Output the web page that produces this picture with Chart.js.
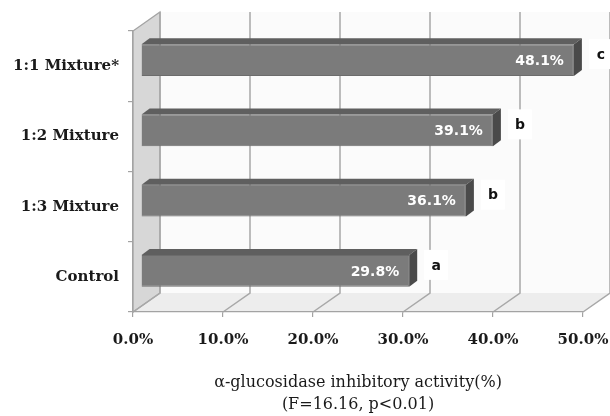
<!DOCTYPE html>
<html><head><meta charset="utf-8">
<script src="https://cdn.jsdelivr.net/npm/chart.js@4"></script>
<style>html,body{margin:0;padding:0;background:#fff}#wrap{width:610px;height:416px;position:relative}</style>
</head><body><div id="wrap"><canvas id="c" width="610" height="416"></canvas></div>
<script>
const categories = ['1:1 Mixture*', '1:2 Mixture', '1:3 Mixture', 'Control'];
const values = [48.1, 39.1, 36.1, 29.8];
const groupLetters = ['c', 'b', 'b', 'a'];
const xTicks = [0, 10, 20, 30, 40, 50];
const axisTitle = ['\u03b1-glucosidase inhibitory activity(%)', '(F=16.16, p<0.01)'];

const DX = 27, DY = -19;   // depth of the 3D box
const BX = 8, BY = -6;     // bar front-face offset
const BDX = 8, BDY = -6;   // bar depth

const box3d = {
  id: 'box3d',
  beforeDraw(chart) {
    const {ctx, chartArea: a, scales: {x}} = chart;
    ctx.save();
    ctx.fillStyle = '#fbfbfb';
    ctx.fillRect(a.left + DX, a.top + DY, a.right - a.left, a.bottom - a.top);
    ctx.fillStyle = '#ededed';
    ctx.beginPath();
    ctx.moveTo(a.left, a.bottom); ctx.lineTo(a.right, a.bottom);
    ctx.lineTo(a.right + DX, a.bottom + DY); ctx.lineTo(a.left + DX, a.bottom + DY);
    ctx.closePath(); ctx.fill();
    ctx.fillStyle = '#d7d7d7';
    ctx.strokeStyle = '#a3a3a3';
    ctx.lineWidth = 1.2;
    ctx.beginPath();
    ctx.moveTo(a.left, a.top); ctx.lineTo(a.left + DX, a.top + DY);
    ctx.lineTo(a.left + DX, a.bottom + DY); ctx.lineTo(a.left, a.bottom);
    ctx.closePath(); ctx.fill(); ctx.stroke();
    ctx.strokeStyle = '#a8a8a8';
    ctx.lineWidth = 1.5;
    xTicks.forEach(v => {
      const px = x.getPixelForValue(v);
      ctx.beginPath();
      ctx.moveTo(px + DX, a.top + DY); ctx.lineTo(px + DX, a.bottom + DY);
      ctx.lineTo(px, a.bottom);
      ctx.stroke();
    });
    ctx.restore();
  },
  beforeDatasetsDraw(chart) {
    chart.ctx.save();
    chart.ctx.translate(BX, BY);
  },
  afterDatasetsDraw(chart) {
    const {ctx, scales: {x}} = chart;
    ctx.restore();
    const meta = chart.getDatasetMeta(0);
    ctx.save();
    meta.data.forEach((bar, i) => {
      const p = bar.getProps(['x', 'y', 'base', 'height'], true);
      const l = p.base + BX, r = p.x + BX;
      const t = p.y + BY - p.height / 2, b = p.y + BY + p.height / 2;
      ctx.fillStyle = '#5f5f5f';
      ctx.beginPath();
      ctx.moveTo(l, t); ctx.lineTo(l + BDX, t + BDY); ctx.lineTo(r + BDX, t + BDY); ctx.lineTo(r, t);
      ctx.closePath(); ctx.fill();
      ctx.fillStyle = '#4a4a4a';
      ctx.beginPath();
      ctx.moveTo(r, t); ctx.lineTo(r + BDX, t + BDY); ctx.lineTo(r + BDX, b + BDY); ctx.lineTo(r, b);
      ctx.closePath(); ctx.fill();
      ctx.fillStyle = '#ffffff';
      ctx.font = 'bold 14px "DejaVu Sans"';
      ctx.textAlign = 'right';
      ctx.textBaseline = 'middle';
      ctx.fillText(values[i].toFixed(1) + '%', r - 10, (t + b) / 2 + 1);
      const lx = x.getPixelForValue(values[i]) + 35;
      const ly = p.y - 11;
      ctx.fillStyle = '#ffffff';
      ctx.fillRect(lx - 12, ly - 16, 24, 30);
      ctx.fillStyle = '#111111';
      ctx.textAlign = 'center';
      ctx.font = 'bold 14px "DejaVu Sans"';
      ctx.fillText(groupLetters[i], lx, ly);
    });
    ctx.restore();
  }
};

new Chart(document.getElementById('c'), {
  type: 'bar',
  data: {
    labels: categories,
    datasets: [{
      data: values,
      backgroundColor: '#7b7b7b',
      borderColor: '#6c6c6c',
      borderWidth: 1,
      barPercentage: 0.45,
      categoryPercentage: 1,
      clip: false
    }]
  },
  options: {
    indexAxis: 'y',
    responsive: false,
    animation: false,
    events: [],
    layout: {padding: {top: 31, right: 27, left: 0, bottom: 0}},
    plugins: {legend: {display: false}, tooltip: {enabled: false}},
    scales: {
      x: {
        min: 0, max: 50,
        afterFit: s => { s.height = 104; s.paddingLeft = 0; s.paddingRight = 0; },
        afterBuildTicks: s => { s.ticks = xTicks.map(v => ({value: v})); },
        ticks: {
          callback: v => Number(v).toFixed(1) + '%',
          color: '#1a1a1a',
          font: {family: '"DejaVu Serif"', size: 15, weight: 'bold'},
          padding: 14,
          maxRotation: 0
        },
        grid: {drawOnChartArea: false, tickLength: 5, color: '#a3a3a3', lineWidth: 1.2},
        border: {display: true, color: '#a3a3a3', width: 1.2},
        title: {
          display: true,
          text: axisTitle,
          color: '#1a1a1a',
          font: {family: '"DejaVu Serif"', size: 16, lineHeight: 1.375},
          padding: {top: 0, bottom: 0}
        }
      },
      y: {
        afterFit: s => { s.width = 133; s.paddingTop = 0; s.paddingBottom = 0; },
        ticks: {
          color: '#1a1a1a',
          font: {family: '"DejaVu Serif"', size: 15, weight: 'bold'},
          padding: 9
        },
        grid: {drawOnChartArea: false, tickLength: 5, color: '#a3a3a3', lineWidth: 1.2, offset: true},
        border: {display: true, color: '#a3a3a3', width: 1.2}
      }
    }
  },
  plugins: [box3d]
});
</script>
</body></html>
